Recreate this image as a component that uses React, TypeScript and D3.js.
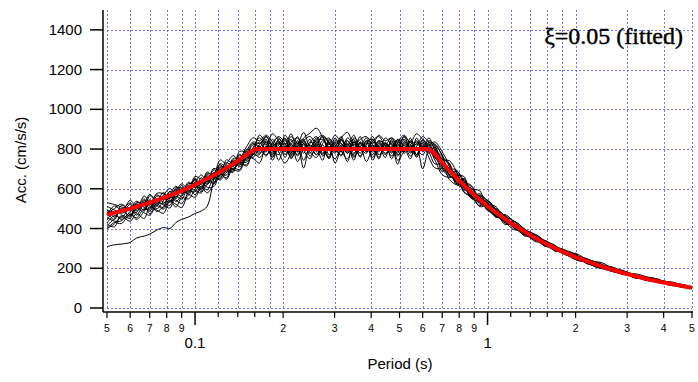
import React from "react";
import * as d3 from "d3";

// periods (s) shared by the black spectra
const periods = [
  0.05, 0.053, 0.056, 0.06, 0.063, 0.067, 0.07, 0.074, 0.078, 0.082, 0.086, 0.09, 0.095, 0.1, 0.105, 0.11,
  0.116, 0.122, 0.128, 0.135, 0.142, 0.15, 0.158,
  0.166, 0.175, 0.184, 0.193, 0.203, 0.213, 0.224, 0.235, 0.247, 0.26, 0.273, 0.287, 0.301, 0.316, 0.332,
  0.349, 0.367, 0.385, 0.405, 0.425, 0.447, 0.47, 0.493, 0.518, 0.545, 0.572, 0.6, 0.63,
  0.66, 0.7, 0.74, 0.78, 0.83, 0.88, 0.94, 1.0, 1.07, 1.15, 1.24, 1.34, 1.45, 1.57, 1.7, 1.85, 2.0, 2.2,
  2.4, 2.65, 2.9, 3.2, 3.5, 3.85, 4.2, 4.6, 5.0,
];

// acceleration response spectra, cm/s/s
const specA = [
  428, 465, 453, 507, 488, 535, 502, 563, 554, 531, 592, 583, 633, 606, 656, 622, 675, 721, 683, 739, 718, 791, 836,
  828, 863, 814, 842, 772, 835, 856, 807, 849, 786, 842, 821, 870, 828, 779, 835, 814, 856, 800, 842, 821, 765, 828, 849, 807, 835, 814, 842,
  821, 771, 672, 691, 627, 557, 575, 527, 459, 470, 423, 362, 371, 336, 286, 289, 270, 222, 232, 203, 168, 172, 156, 126, 132, 117, 99,
];
const specB = [
  498, 458, 502, 458, 516, 493, 565, 528, 505, 587, 550, 604, 584, 655, 593, 650, 633, 700, 697, 683, 767, 756, 794,
  786, 842, 744, 821, 849, 772, 814, 705, 828, 863, 800, 758, 835, 814, 737, 842, 807, 779, 849, 793, 828, 751, 821, 786, 856, 772, 835, 800,
  791, 686, 722, 626, 652, 567, 515, 537, 487, 420, 433, 394, 335, 334, 316, 267, 262, 247, 205, 206, 186, 151, 156, 142, 115, 118, 106,
];
const specC = [
  400, 430, 425, 472, 453, 500, 488, 535, 519, 503, 564, 548, 605, 571, 614, 594, 654, 651, 711, 697, 690, 756, 752,
  730, 814, 772, 835, 758, 821, 786, 828, 793, 842, 765, 814, 779, 849, 807, 772, 835, 786, 821, 758, 828, 800, 842, 779, 814, 793, 828, 758,
  706, 701, 707, 631, 625, 612, 530, 504, 501, 433, 393, 392, 369, 314, 306, 291, 246, 240, 228, 185, 188, 156, 153, 144, 117, 116, 98,
];
const specD = [
  470, 514, 495, 528, 495, 563, 530, 514, 568, 601, 571, 618, 570, 627, 670, 636, 696, 665, 746, 725, 774, 742, 808,
  856, 821, 877, 842, 800, 863, 828, 884, 814, 849, 870, 835, 793, 856, 884, 821, 849, 863, 828, 870, 842, 856, 814, 863, 835, 877, 849, 821,
  836, 786, 722, 671, 662, 574, 567, 542, 487, 437, 435, 397, 361, 312, 309, 282, 272, 226, 205, 208, 172, 169, 139, 139, 130, 106, 103,
];
const specE = [
  400, 423, 460, 437, 474, 451, 509, 493, 477, 538, 522, 506, 570, 557, 607, 580, 626, 679, 648, 704, 697, 770, 759,
  800, 765, 828, 744, 814, 779, 842, 793, 751, 821, 772, 835, 730, 800, 828, 758, 814, 737, 807, 835, 779, 814, 765, 828, 786, 807, 700, 793,
  746, 671, 657, 664, 587, 560, 557, 494, 464, 453, 403, 367, 358, 318, 291, 283, 250, 229, 222, 186, 171, 165, 140, 131, 126, 107, 100,
];
const specF = [
  530, 521, 509, 500, 537, 514, 544, 521, 561, 552, 599, 590, 577, 634, 628, 678, 668, 707, 690, 753, 753, 812, 857,
  842, 870, 835, 807, 856, 786, 828, 849, 765, 814, 863, 828, 786, 842, 821, 870, 793, 835, 849, 772, 814, 856, 828, 793, 842, 821, 863, 835,
  816, 746, 742, 691, 602, 597, 590, 500, 497, 460, 398, 390, 371, 336, 293, 287, 248, 246, 220, 189, 190, 153, 153, 129, 127, 120, 101,
];
const specG = [
  491, 479, 446, 486, 523, 493, 537, 500, 540, 587, 557, 597, 591, 585, 642, 629, 682, 658, 697, 739, 711, 763, 822,
  814, 772, 821, 863, 828, 758, 807, 856, 880, 905, 860, 800, 751, 814, 842, 779, 828, 807, 772, 842, 800, 835, 786, 821, 765, 814, 842, 807,
  801, 716, 700, 696, 639, 552, 553, 527, 457, 457, 435, 374, 341, 341, 307, 269, 275, 238, 204, 201, 183, 150, 152, 144, 115, 115, 105,
];
const specH = [
  442, 486, 474, 521, 467, 521, 474, 528, 526, 566, 536, 569, 612, 592, 579, 643, 626, 672, 655, 732, 725, 721, 780,
  758, 800, 849, 786, 730, 779, 835, 744, 807, 772, 821, 758, 856, 793, 751, 828, 779, 842, 744, 814, 772, 807, 723, 835, 800, 765, 821, 786,
  726, 723, 647, 621, 609, 604, 523, 530, 479, 427, 421, 397, 344, 332, 313, 271, 244, 243, 224, 184, 184, 168, 143, 140, 128, 104, 101,
];
const specI = [
  414, 451, 488, 465, 523, 507, 495, 549, 533, 517, 578, 562, 626, 620, 600, 664, 647, 714, 697, 697, 753, 749, 801,
  835, 793, 814, 828, 786, 849, 765, 821, 800, 856, 779, 828, 807, 765, 842, 800, 863, 786, 835, 814, 758, 849, 807, 842, 779, 828, 800, 856,
  796, 761, 670, 648, 639, 590, 510, 520, 509, 437, 425, 370, 362, 311, 310, 272, 268, 222, 218, 203, 170, 169, 141, 130, 129, 113, 100,
];
const specJ = [
  484, 444, 516, 493, 481, 542, 523, 570, 547, 573, 613, 576, 619, 641, 621, 685, 661, 693, 732, 711, 788, 784, 773,
  772, 835, 786, 807, 842, 793, 863, 779, 835, 807, 744, 849, 821, 786, 856, 814, 765, 821, 863, 793, 835, 779, 849, 814, 751, 856, 793, 828,
  776, 753, 684, 678, 582, 567, 560, 490, 491, 463, 405, 373, 365, 334, 289, 285, 262, 224, 206, 198, 187, 159, 138, 139, 117, 117, 102,
];
const specK = [
  421, 409, 467, 451, 502, 479, 467, 514, 498, 545, 508, 555, 549, 599, 635, 608, 612, 672, 669, 718, 732, 735, 773,
  821, 849, 765, 800, 828, 751, 814, 835, 786, 758, 828, 856, 800, 772, 814, 744, 835, 800, 786, 828, 793, 842, 772, 800, 835, 758, 814, 779,
  811, 709, 670, 641, 632, 617, 545, 504, 471, 453, 398, 388, 347, 338, 295, 268, 258, 242, 204, 187, 183, 152, 150, 130, 118, 108, 104,
];
const specL = [
  512, 493, 481, 542, 509, 549, 516, 577, 575, 552, 606, 604, 598, 662, 649, 643, 703, 686, 725, 767, 739, 798, 794,
  870, 828, 779, 849, 821, 877, 786, 842, 863, 821, 793, 842, 814, 863, 786, 856, 828, 793, 842, 863, 814, 786, 835, 870, 821, 772, 849, 814,
  826, 766, 714, 626, 617, 552, 537, 542, 494, 430, 413, 394, 345, 320, 309, 285, 243, 230, 225, 199, 170, 166, 152, 129, 124, 117, 100,
];
const specM = [
  456, 437, 439, 479, 446, 486, 523, 486, 512, 559, 543, 527, 584, 613, 586, 622, 661, 644, 683, 690, 739, 714, 787,
  779, 814, 758, 835, 793, 828, 737, 800, 821, 772, 807, 751, 828, 786, 821, 765, 800, 814, 758, 821, 793, 828, 744, 786, 821, 772, 807, 793,
  761, 701, 662, 664, 595, 582, 537, 497, 464, 433, 421, 370, 347, 317, 304, 269, 250, 226, 201, 198, 175, 155, 144, 135, 114, 110, 99,
];
const specN = [
  477, 500, 523, 493, 530, 528, 572, 542, 582, 538, 585, 625, 598, 648, 607, 671, 654, 728, 704, 746, 725, 777, 829,
  807, 863, 800, 772, 870, 814, 772, 828, 779, 835, 849, 793, 842, 828, 800, 849, 758, 828, 814, 786, 856, 821, 779, 863, 807, 842, 786, 835,
  806, 739, 684, 686, 605, 574, 563, 500, 471, 437, 405, 382, 361, 320, 301, 282, 258, 231, 220, 185, 180, 166, 148, 140, 119, 106, 102,
];
// the one record that starts low
const specLow = [
  309, 318, 322, 330, 352, 362, 372, 392, 405, 400, 430, 446, 458, 476, 488, 512, 650, 745, 720, 700, 735, 760, 790,
  814, 786, 835, 856, 807, 765, 821, 842, 793, 828, 863, 772, 814, 849, 779, 835, 793, 842, 821, 751, 828, 807, 849, 786, 835, 800, 772, 821,
  754, 746, 730, 634, 647, 560, 567, 512, 457, 467, 401, 390, 348, 314, 313, 272, 266, 225, 210, 201, 170, 166, 141, 133, 127, 108, 104,
];
const spectra = [specA, specB, specC, specD, specE, specF, specG, specH, specI, specJ, specK, specL, specM, specN, specLow];

// fitted target spectrum (red)
const targetT = [0.05, 0.06, 0.07, 0.08, 0.09, 0.1, 0.12, 0.14, 0.16, 0.63, 0.66, 0.7, 0.8, 0.9, 1, 1.2, 1.4, 1.6, 1.8, 2, 2.5, 3, 3.5, 4, 4.5, 5];
const targetSa = [470, 500, 530, 560, 590, 620, 680, 740, 800, 800, 776, 731, 640, 569, 512, 427, 366, 320, 284, 256, 205, 171, 146, 128, 114, 102];

const yTicks = [0, 200, 400, 600, 800, 1000, 1200, 1400];
const xMajor = [0.1, 1];
const xLabeled = [0.05, 0.06, 0.07, 0.08, 0.09, 0.2, 0.3, 0.4, 0.5, 0.6, 0.7, 0.8, 0.9, 2, 3, 4, 5];
const xUnlabeled = [0.12, 0.14, 0.16, 0.18, 1.2, 1.4, 1.6, 1.8];

const W = 698;
const H = 382;
const left = 107, right = 692, top = 10, bottom = 308;
const axisX = 103, axisY = 312;

const digit = (v: number) => String(Math.round(v / Math.pow(10, Math.floor(Math.log10(v) + 1e-9))));

export default function App() {
  const x = d3.scaleLog().domain([0.05, 5]).range([left, right]);
  const y = d3.scaleLinear().domain([0, 1500]).range([bottom, top]);

  const blackLine = d3
    .line<[number, number]>()
    .x((d) => x(d[0]))
    .y((d) => y(d[1]))
    .curve(d3.curveCatmullRom);
  const redLine = d3
    .line<[number, number]>()
    .x((d) => x(d[0]))
    .y((d) => y(d[1]));

  const gridColor = "#6f6fff";
  const font = "'Liberation Sans', Arial, sans-serif";
  const allX = [...xMajor, ...xLabeled, ...xUnlabeled];

  return (
    <svg width={W} height={H} style={{ position: "absolute", left: 0, top: 0, background: "#fff" }}>
      {/* grid */}
      <g stroke={gridColor} strokeWidth={1} strokeDasharray="2,2">
        {yTicks.map((t) => (
          <line key={"gy" + t} x1={left} x2={right} y1={Math.round(y(t)) + 0.5} y2={Math.round(y(t)) + 0.5} />
        ))}
        {allX.map((t) => (
          <line key={"gx" + t} x1={Math.round(x(t)) + 0.5} x2={Math.round(x(t)) + 0.5} y1={top} y2={bottom} />
        ))}
      </g>

      {/* spectra */}
      <g fill="none" stroke="#000" strokeWidth={1}>
        {spectra.map((s, i) => (
          <path
            key={"s" + i}
            d={blackLine(s.filter((_, j) => j < periods.length).map((v, j) => [periods[j], v] as [number, number])) || ""}
          />
        ))}
      </g>
      <path
        d={redLine(targetT.map((t, i) => [t, targetSa[i]] as [number, number])) || ""}
        fill="none"
        stroke="#ff0000"
        strokeWidth={4}
        strokeLinejoin="round"
      />

      {/* y axis */}
      <line x1={axisX} x2={axisX} y1={top} y2={axisY} stroke="#000" strokeWidth={1.5} />
      {yTicks.map((t) => (
        <g key={"yt" + t}>
          <line x1={axisX - 13} x2={axisX} y1={y(t)} y2={y(t)} stroke="#000" strokeWidth={1.5} />
          <text x={82} y={y(t) + 5} textAnchor="end" fontFamily={font} fontSize={15} fill="#000">
            {t}
          </text>
        </g>
      ))}

      {/* x axis */}
      <line x1={axisX} x2={right + 1} y1={axisY} y2={axisY} stroke="#000" strokeWidth={1.5} />
      {xMajor.map((t) => (
        <g key={"xm" + t}>
          <line x1={x(t)} x2={x(t)} y1={axisY} y2={axisY + 13} stroke="#000" strokeWidth={1.5} />
          <text x={x(t)} y={348} textAnchor="middle" fontFamily={font} fontSize={15} fill="#000">
            {String(t)}
          </text>
        </g>
      ))}
      {xLabeled.map((t) => (
        <g key={"xl" + t}>
          <line x1={x(t)} x2={x(t)} y1={axisY} y2={axisY + 6} stroke="#000" strokeWidth={1.2} />
          <text x={x(t)} y={332} textAnchor="middle" fontFamily={font} fontSize={10.5} fill="#000">
            {digit(t)}
          </text>
        </g>
      ))}
      {xUnlabeled.map((t) => (
        <line key={"xu" + t} x1={x(t)} x2={x(t)} y1={axisY} y2={axisY + 5} stroke="#000" strokeWidth={1.2} />
      ))}

      {/* axis titles */}
      <text x={400} y={369} textAnchor="middle" fontFamily={font} fontSize={15} fill="#000">
        Period (s)
      </text>
      <text
        transform={`translate(26,160) rotate(-90)`}
        textAnchor="middle"
        fontFamily={font}
        fontSize={15}
        fill="#000"
      >
        Acc. (cm/s/s)
      </text>

      {/* annotation */}
      <text
        x={683}
        y={44}
        textAnchor="end"
        fontFamily="'Liberation Serif', 'Times New Roman', serif"
        fontSize={24}
        fill="#000"
        stroke="#000"
        strokeWidth={0.4}
      >
        ξ=0.05 (fitted)
      </text>
    </svg>
  );
}
